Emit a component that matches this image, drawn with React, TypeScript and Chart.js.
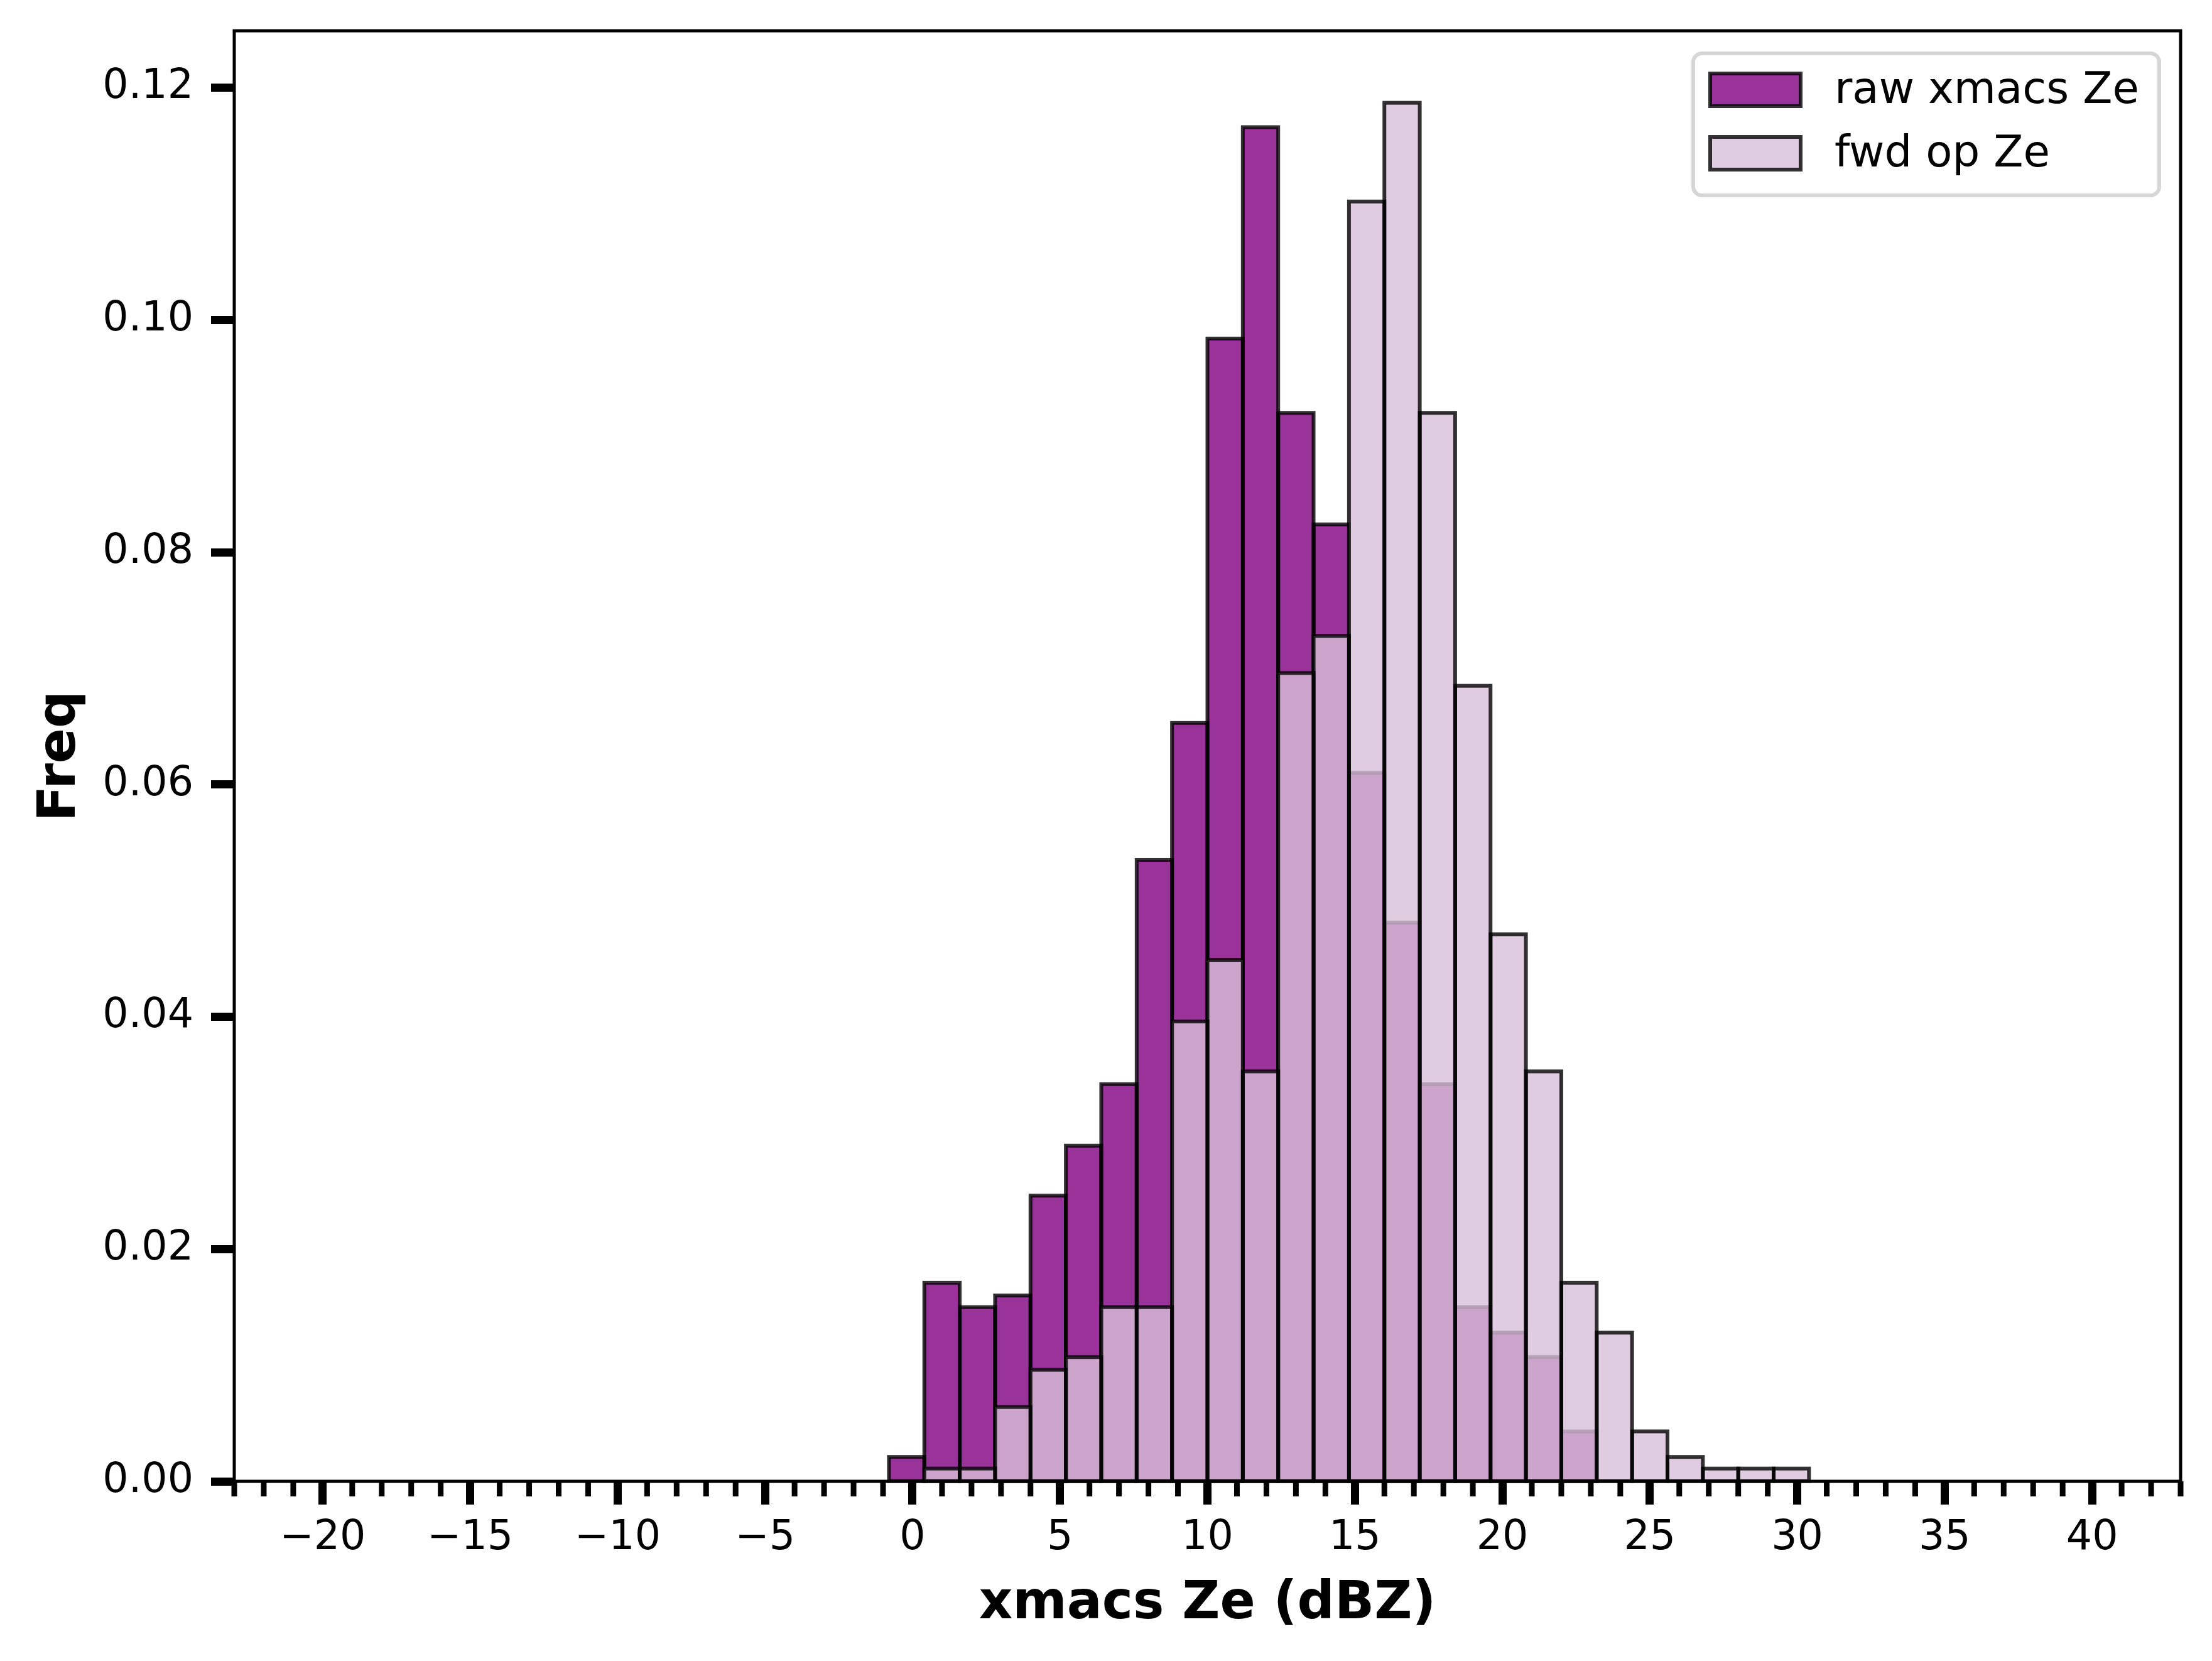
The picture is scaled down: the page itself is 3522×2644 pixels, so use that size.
import { useEffect, useRef } from "react";
import Chart from "chart.js/auto";

// histogram bins (width 1.2 dBZ), density values
const binCenters = [
  -0.2, 1.0, 2.2, 3.4, 4.6, 5.8, 7.0, 8.2, 9.4, 10.6, 11.8, 13.0, 14.2,
  15.4, 16.6, 17.8, 19.0, 20.2, 21.4, 22.6, 23.8, 25.0, 26.2, 27.4, 28.6, 29.8,
];
const rawZe = [
  0.0021, 0.0171, 0.015, 0.016, 0.0246, 0.0289, 0.0342, 0.0535, 0.0653,
  0.0984, 0.1166, 0.092, 0.0824, 0.061, 0.0481, 0.0342, 0.015, 0.0128,
  0.0107, 0.0043, 0, 0, 0, 0, 0, 0,
];
const fwdZe = [
  0, 0.0011, 0.0011, 0.0064, 0.0096, 0.0107, 0.015, 0.015, 0.0396, 0.0449,
  0.0353, 0.0696, 0.0728, 0.1102, 0.1187, 0.092, 0.0685, 0.0471, 0.0353,
  0.0171, 0.0128, 0.0043, 0.0021, 0.0011, 0.0011, 0.0011,
];
const xMajorTicks = [-20, -15, -10, -5, 0, 5, 10, 15, 20, 25, 30, 35, 40];
const yTicks = [0, 0.02, 0.04, 0.06, 0.08, 0.1, 0.12];
const xMin = -23;
const xMax = 43;
const yMax = 0.1249;

const FONT = "'DejaVu Sans', sans-serif";
const EDGE = "rgba(0, 0, 0, 0.8)";

// matplotlib-style edges, centred on the bar outline
const barEdges = {
  id: "barEdges",
  afterDatasetDraw(chart: any, args: any) {
    const ctx = chart.ctx;
    const ds = chart.data.datasets[args.index];
    ctx.save();
    ctx.lineWidth = 6;
    ctx.strokeStyle = EDGE;
    args.meta.data.forEach((bar: any, i: number) => {
      if (!ds.data[i].y) return;
      const { x, y, base, width } = bar.getProps(["x", "y", "base", "width"], true);
      ctx.strokeRect(x - width / 2, y, width, base - y);
    });
    ctx.restore();
  },
};

// frame, minor ticks and legend box
const frame = {
  id: "frame",
  afterDraw(chart: any) {
    const { ctx, chartArea: a, scales } = chart;
    ctx.save();
    ctx.strokeStyle = "#000";
    ctx.lineWidth = 9;
    for (let v = xMin; v <= xMax; v++) {
      if (v % 5 === 0) continue;
      const px = scales.x.getPixelForValue(v);
      ctx.beginPath();
      ctx.moveTo(px, a.bottom);
      ctx.lineTo(px, a.bottom + 24);
      ctx.stroke();
    }
    ctx.lineWidth = 5;
    ctx.strokeRect(a.left, a.top, a.right - a.left, a.bottom - a.top);

    const w = 742;
    const h = 226;
    const lx = a.right - 34 - w;
    const ly = a.top + 36;
    ctx.beginPath();
    ctx.roundRect(lx, ly, w, h, 14);
    ctx.fillStyle = "rgba(255, 255, 255, 0.8)";
    ctx.fill();
    ctx.lineWidth = 6;
    ctx.strokeStyle = "rgba(204, 204, 204, 0.8)";
    ctx.stroke();

    ctx.font = `69px ${FONT}`;
    ctx.textBaseline = "middle";
    chart.data.datasets.forEach((ds: any, i: number) => {
      const cy = ly + 58 + i * 101;
      ctx.fillStyle = "#fff";
      ctx.fillRect(lx + 27, cy - 26, 144, 52);
      ctx.fillStyle = ds.backgroundColor;
      ctx.fillRect(lx + 27, cy - 26, 144, 52);
      ctx.lineWidth = 6;
      ctx.strokeStyle = EDGE;
      ctx.strokeRect(lx + 27, cy - 26, 144, 52);
      ctx.fillStyle = "#000";
      ctx.fillText(ds.label, lx + 225, cy + 3);
    });
    ctx.restore();
  },
};

export default function App() {
  const chartRef = useRef<HTMLCanvasElement | null>(null);
  const chartInstanceRef = useRef<Chart | null>(null);

  useEffect(() => {
    const canvas = chartRef.current;
    if (!canvas) return;
    if (chartInstanceRef.current) chartInstanceRef.current.destroy();

    chartInstanceRef.current = new Chart(canvas, {
      type: "bar",
      data: {
        datasets: [
          {
            label: "raw xmacs Ze",
            data: binCenters.map((x, i) => ({ x, y: rawZe[i] })),
            backgroundColor: "rgba(128, 0, 128, 0.8)",
            borderWidth: 0,
            order: 2,
          },
          {
            label: "fwd op Ze",
            data: binCenters.map((x, i) => ({ x, y: fwdZe[i] })),
            backgroundColor: "rgba(216, 191, 216, 0.8)",
            borderWidth: 0,
            order: 1,
          },
        ],
      },
      options: {
        animation: false,
        responsive: true,
        maintainAspectRatio: false,
        devicePixelRatio: 1,
        layout: { padding: { top: 49, right: 50, left: 0, bottom: 0 } },
        datasets: {
          bar: {
            grouped: false,
            barPercentage: 1,
            categoryPercentage: 1,
            inflateAmount: 0,
          },
        },
        plugins: { legend: { display: false }, tooltip: { enabled: false } },
        scales: {
          x: {
            type: "linear",
            min: xMin,
            max: xMax,
            offset: false,
            afterBuildTicks: (scale: any) => {
              scale.ticks = xMajorTicks.map((value) => ({ value }));
            },
            afterFit: (scale: any) => {
              scale.height = 286;
              scale.paddingLeft = 0;
              scale.paddingRight = 0;
            },
            grid: {
              display: true,
              offset: false,
              drawOnChartArea: false,
              drawTicks: true,
              tickLength: 37,
              tickWidth: 13,
              tickColor: "#000",
            },
            border: { display: false },
            ticks: {
              autoSkip: false,
              maxRotation: 0,
              padding: 15,
              color: "#000",
              font: { family: FONT, size: 65 },
              callback: (v: any) => String(v).replace("-", "\u2212"),
            },
            title: {
              display: true,
              text: "xmacs Ze (dBZ)",
              color: "#000",
              font: { family: FONT, size: 83, weight: "bold", lineHeight: 1.2 },
              padding: { top: 0, bottom: 40 },
            },
          },
          y: {
            min: 0,
            max: yMax,
            afterBuildTicks: (scale: any) => {
              scale.ticks = yTicks.map((value) => ({ value }));
            },
            afterFit: (scale: any) => {
              scale.width = 373;
              scale.paddingTop = 0;
              scale.paddingBottom = 0;
            },
            grid: {
              display: true,
              drawOnChartArea: false,
              drawTicks: true,
              tickLength: 37,
              tickWidth: 13,
              tickColor: "#000",
            },
            border: { display: false },
            ticks: {
              padding: 28,
              color: "#000",
              font: { family: FONT, size: 65 },
              callback: (v: any) => Number(v).toFixed(2),
            },
            title: {
              display: true,
              text: "Freq",
              color: "#000",
              font: { family: FONT, size: 83, weight: "bold", lineHeight: 1.2 },
              padding: { top: 48, bottom: 0 },
            },
          },
        },
      },
      plugins: [barEdges, frame],
    });

    return () => {
      chartInstanceRef.current?.destroy();
    };
  }, []);

  return (
    <div
      style={{
        position: "fixed",
        left: 0,
        top: 0,
        width: 3522,
        height: 2644,
        background: "#fff",
      }}
    >
      <canvas ref={chartRef}></canvas>
    </div>
  );
}
